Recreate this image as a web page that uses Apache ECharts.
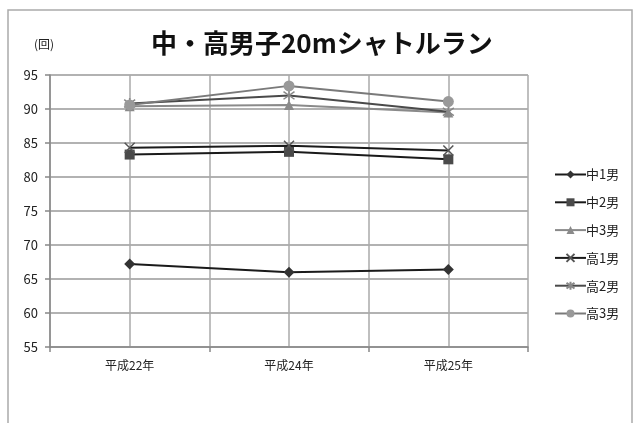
<!DOCTYPE html>
<html>
<head>
<meta charset="utf-8">
<script src="https://cdn.jsdelivr.net/npm/echarts@6/dist/echarts.min.js"></script>
<style>
  html, body { margin: 0; padding: 0; background: #fff; }
  #chart { width: 638px; height: 423px; }
</style>
</head>
<body>
<div id="chart"></div>
<script>
// 学年別 20mシャトルラン平均回数
const years = ['平成22年', '平成24年', '平成25年'];
const seriesNames = ['中1男', '中2男', '中3男', '高1男', '高2男', '高3男'];
const chu1 = [67.2, 66.0, 66.4];
const chu2 = [83.3, 83.7, 82.6];
const chu3 = [90.4, 90.6, 89.5];
const ko1 = [84.3, 84.6, 83.9];
const ko2 = [90.8, 92.0, 89.6];
const ko3 = [90.6, 93.4, 91.1];
const yTicks = { min: 55, max: 95, step: 5 };

const FONT = '"Noto Sans CJK JP", "Noto Sans", sans-serif';

const crossPath = 'path://M0,0 L10,10 M10,0 L0,10';
const starPath = 'path://M5,0 L5,10 M0,1.5 L10,8.5 M10,1.5 L0,8.5';

function makeSeries(name, data, lineColor, symbol, size, fill, stroke, strokeW) {
  return {
    name: name,
    type: 'line',
    xAxisIndex: 0,
    data: data,
    symbol: symbol,
    symbolSize: size,
    showAllSymbol: true,
    lineStyle: { color: lineColor, width: 2 },
    itemStyle: { color: fill, borderColor: stroke, borderWidth: strokeW },
    emphasis: { disabled: true },
    animation: false
  };
}

const chart = echarts.init(document.getElementById('chart'));
chart.setOption({
  backgroundColor: '#fff',
  animation: false,
  graphic: [
    {
      type: 'rect',
      shape: { x: 8, y: 10, width: 624, height: 430 },
      style: { fill: 'none', stroke: '#aaa', lineWidth: 1.5 },
      silent: true
    },
    {
      type: 'text',
      left: 34, top: 38,
      style: { text: '(回)', font: '12px ' + FONT, fill: '#222' }
    }
  ],
  title: {
    text: '中・高男子20mシャトルラン',
    left: 146, top: 25,
    textStyle: { fontFamily: FONT, fontSize: 26, fontWeight: 'bold', color: '#111' }
  },
  legend: {
    orient: 'vertical',
    left: 549, top: 163,
    itemWidth: 31, itemHeight: 10,
    itemGap: 14.8,
    data: seriesNames,
    textStyle: { fontFamily: FONT, fontSize: 13, color: '#222', padding: [0, 0, 0, -5] }
  },
  grid: { left: 50, right: 110, top: 75, bottom: 76, containLabel: false },
  xAxis: [
    {
      type: 'category',
      data: years,
      boundaryGap: true,
      axisLine: { lineStyle: { color: '#888', width: 1.5 } },
      axisTick: { show: true, length: 5, lineStyle: { color: '#888', width: 1.5 } },
      axisLabel: { fontFamily: FONT, fontSize: 12, color: '#222', margin: 12 },
      splitLine: { show: false }
    },
    {
      type: 'value',
      min: 0, max: 6, interval: 1,
      position: 'bottom',
      axisLine: { show: false },
      axisTick: { show: false },
      axisLabel: { show: false },
      splitLine: { show: true, lineStyle: { color: '#aaa', width: 1.5 } }
    }
  ],
  yAxis: {
    type: 'value',
    min: yTicks.min, max: yTicks.max, interval: yTicks.step,
    axisLine: { show: true, lineStyle: { color: '#888', width: 1.5 } },
    axisTick: { show: true, length: 5, lineStyle: { color: '#888', width: 1.5 } },
    axisLabel: { fontFamily: FONT, fontSize: 13, color: '#222', margin: 12 },
    splitLine: { show: true, lineStyle: { color: '#999', width: 1.5 } }
  },
  series: [
    makeSeries('中1男', chu1, '#1a1a1a', 'diamond', 11, '#333', '#333', 0),
    makeSeries('中2男', chu2, '#1a1a1a', 'rect', 10, '#4a4a4a', '#4a4a4a', 0),
    makeSeries('中3男', chu3, '#8a8a8a', 'triangle', 10, '#8a8a8a', '#8a8a8a', 0),
    makeSeries('高1男', ko1, '#1a1a1a', crossPath, 10, 'none', '#555', 1.5),
    makeSeries('高2男', ko2, '#4a4a4a', starPath, 11, 'none', '#888', 1.5),
    makeSeries('高3男', ko3, '#7a7a7a', 'circle', 11, '#999', '#999', 0)
  ]
});
</script>
</body>
</html>
